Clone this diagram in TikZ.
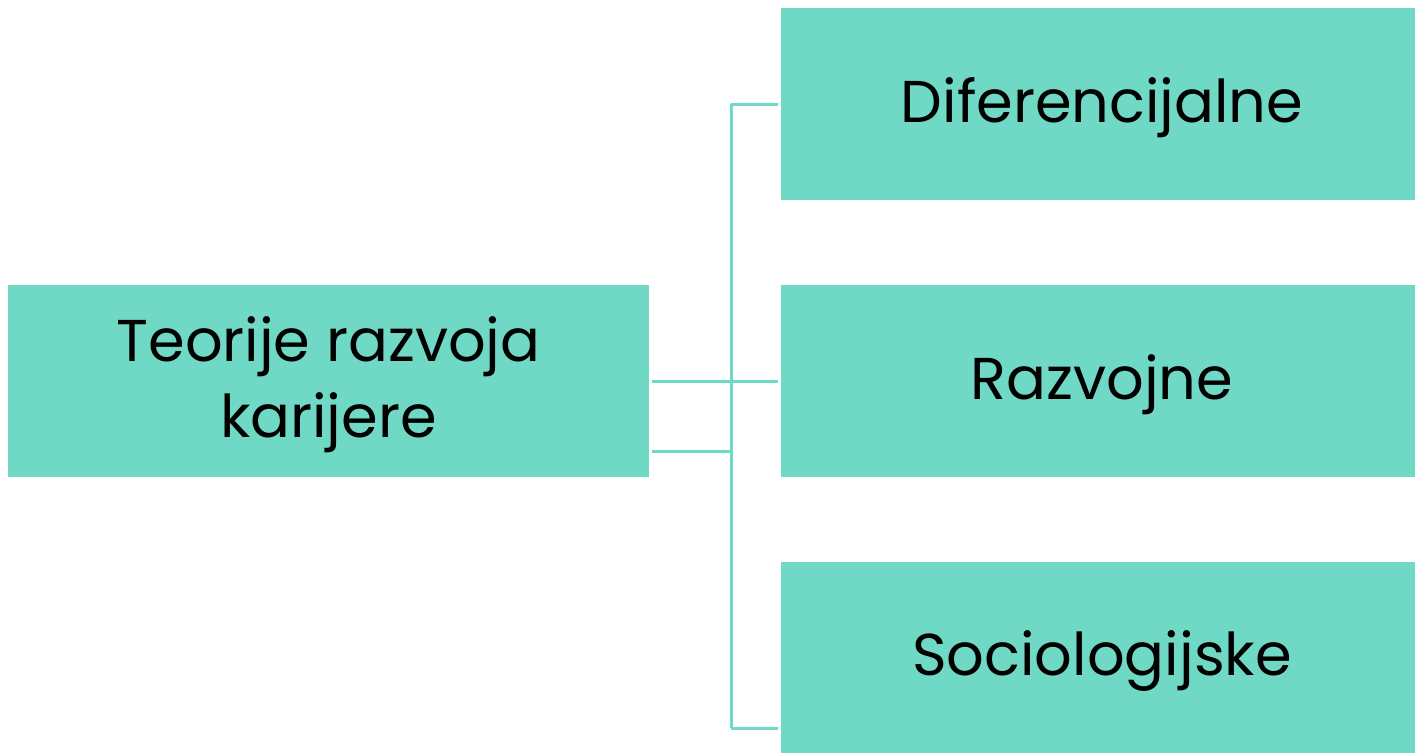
\documentclass[tikz,border=0pt]{standalone}
\usepackage{fontspec}
\setmainfont{Poppins}
\definecolor{teal}{RGB}{111,217,197}
\begin{document}
\begin{tikzpicture}[x=1pt,y=-1pt,
  box/.style={fill=teal,draw=none,inner sep=0pt},
  txt/.style={inner sep=0pt,align=center,font=\fontsize{59}{76}\selectfont,yshift=-4pt},
  conn/.style={draw=teal,line width=3pt}]
\useasboundingbox (0,0) rectangle (1415,753);
\node[box,minimum width=641pt,minimum height=192pt] (L) at (328.5,381) {};
\node[box,minimum width=634pt,minimum height=192pt] (D) at (1098,104) {};
\node[box,minimum width=634pt,minimum height=192pt] (R) at (1098,381) {};
\node[box,minimum width=634pt,minimum height=191pt] (S) at (1098,657.5) {};
\node[txt] (Lt) at (L) {Teorije razvoja\\karijere};
\node[txt,xshift=4pt] (Dt) at (D) {Diferencijalne};
\node[txt,xshift=4pt] (Rt) at (R) {Razvojne};
\node[txt,xshift=4pt] (St) at (S) {Sociologijske};
\coordinate (jt) at (731,104);
\coordinate (jb) at (731,728);
\coordinate (la) at (652,381);
\coordinate (lb) at (652,451);
\coordinate (ra) at (778,104);
\coordinate (rb) at (778,381);
\coordinate (rc) at (778,728);
\draw[conn] (jt) -- (jb);
\draw[conn] (la) -- (la -| jt);
\draw[conn] (lb) -- (lb -| jt);
\draw[conn] (jt) -- (ra);
\draw[conn] (rb -| jt) -- (rb);
\draw[conn] (jb) -- (rc);
\end{tikzpicture}
\end{document}
